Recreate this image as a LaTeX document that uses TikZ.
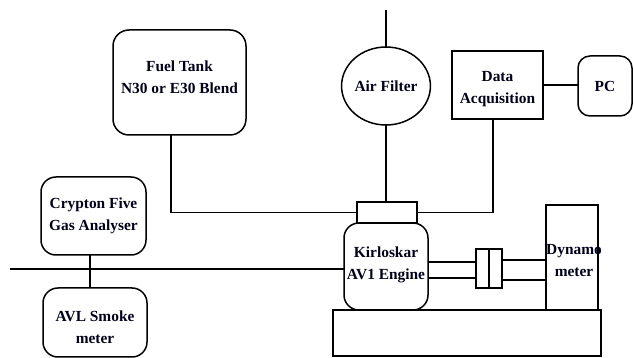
\documentclass[tikz,border=0pt]{standalone}
\usepackage{fontspec}
\setmainfont{Liberation Serif}
\usetikzlibrary{shapes.geometric,calc}
\begin{document}
\begin{tikzpicture}[x=1pt,y=-1pt,
  every node/.style={inner sep=0pt,outer sep=0pt},
  txt/.style={font=\bfseries\fontsize{15.4}{22}\selectfont,align=center,text=black!90!blue},
  rbox/.style={draw,line width=1.5pt,rounded corners=16pt,txt},
  sbox/.style={draw,line width=1.5pt,txt},
  conn/.style={line width=1.5pt}]
\useasboundingbox (0,0) rectangle (633,358);
% nodes
\node[rbox,minimum width=133pt,minimum height=105pt] (fuel) at (179.5,82.5) {Fuel Tank\\N30 or E30 Blend\\[-12pt]};
\node[draw,line width=1.5pt,ellipse,minimum width=84pt,minimum height=78pt,txt] (air) at (386,86) {Air Filter};
\node[sbox,minimum width=91pt,minimum height=68pt] (daq) at (497.5,85) {Data\\Acquisition\\[-26pt]};
\node[rbox,rounded corners=12pt,minimum width=54pt,minimum height=60pt] (pc) at (605,86) {PC};
\node[sbox,minimum width=60pt,minimum height=21pt] (mani) at (387,212.5) {};
\node[rbox,rounded corners=15pt,minimum width=84pt,minimum height=87pt] (engine) at (386,266.5) {Kirloskar\\AV1 Engine\\[-15pt]};
\node[rbox,rounded corners=15pt,minimum width=105pt,minimum height=78pt] (crypton) at (93.5,216) {Crypton Five\\Gas Analyser};
\node[rbox,rounded corners=15pt,minimum width=104pt,minimum height=69pt] (avl) at (95,322.5) {AVL Smoke\\meter\\[-31pt]};
\node[sbox,minimum width=26pt,minimum height=39pt] (coup) at (489,268.5) {};
\node[sbox,minimum width=52pt,minimum height=105pt] (dyno) at (572,257.5) {};
\node[txt] (dynolabel) at (574,261) {Dynamo\\meter};
\node[sbox,minimum width=268pt,minimum height=46pt] (base) at (467,333) {};
% coordinates
\coordinate (airin) at (386,10);
\coordinate (exh) at (10,269);
\coordinate (gasx) at (90,0);
% connectors
\draw[conn] (airin) -- (air.north);
\draw[conn] (air.south) -- (air.south |- mani.north);
\draw[conn] ([xshift=-8.5pt]fuel.south) |- (mani.west);
\draw[conn] ([xshift=-4.5pt]daq.south) |- (mani.east);
\draw[conn] (daq.east) -- (daq.east -| pc.west);
\draw[conn] (exh) -- (exh -| engine.west);
\draw[conn] (gasx |- crypton.south) -- (gasx |- avl.north);
\draw[line width=2.4pt] (mani.south west) -- (mani.south east);
\draw[conn] ([yshift=4.5pt]engine.east) -- ([yshift=4.5pt]engine.east -| coup.west);
\draw[conn] ([yshift=-11.5pt]engine.east) -- ([yshift=-11.5pt]engine.east -| coup.west);
\draw[conn] ([yshift=8.5pt]coup.east) -- ([yshift=8.5pt]coup.east -| dyno.west);
\draw[conn] ([yshift=-11.5pt]coup.east) -- ([yshift=-11.5pt]coup.east -| dyno.west);
\draw[line width=2.8pt] (coup.north) -- (coup.south);
\end{tikzpicture}
\end{document}
